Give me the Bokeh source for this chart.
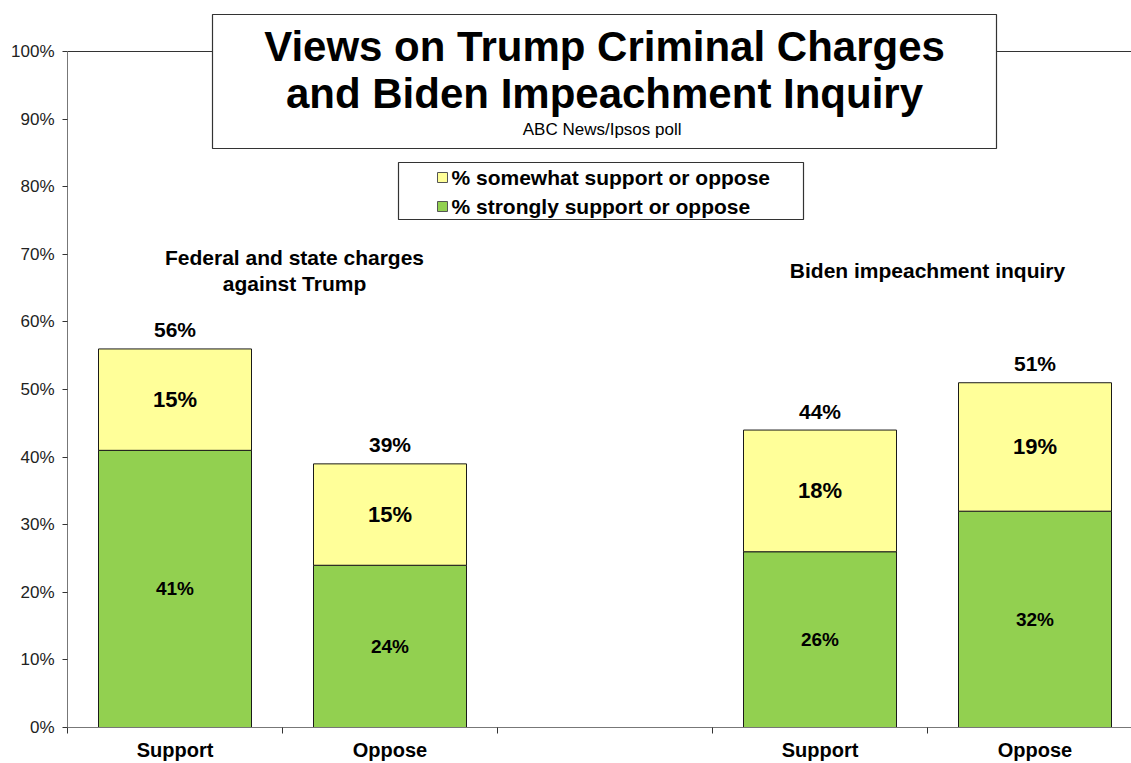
from bokeh.plotting import figure
from bokeh.models import Range1d, FixedTicker, Span, ColumnDataSource
from bokeh.core.properties import value
from bokeh.embed import file_html
from bokeh.resources import INLINE

# ---------------- data ----------------
responses = ["Support", "Oppose", "Support", "Oppose"]
group_of_bar = [0, 0, 1, 1]
group_labels = ["Federal and state charges\nagainst Trump", "Biden impeachment inquiry"]
strongly = [41, 24, 26, 32]
somewhat = [15, 15, 18, 19]
totals = [56, 39, 44, 51]
series_names = ["% somewhat support or oppose", "% strongly support or oppose"]
series_colors = ["#FFFF99", "#92D050"]
y_ticks = list(range(0, 101, 10))
y_tick_labels = [f"{t}%" for t in y_ticks]
title_lines = ["Views on Trump Criminal Charges", "and Biden Impeachment Inquiry"]
subtitle = "ABC News/Ipsos  poll"

# ---------------- layout helpers ----------------
W, H = 1131, 763
FL, FB = 67, 727          # frame left / bottom in page pixels
SLOT = 215.0              # pixels per category slot
PPU = 6.76                # pixels per percentage point
FONT = value("Liberation Sans")


def X(px):
    return (px - FL) / SLOT


def Y(py):
    return (FB - py) / PPU


# each group takes two slots, with one empty slot between the groups
xs = [g * 3 + i % 2 + 0.5 for i, g in enumerate(group_of_bar)]
group_x = [g * 3 + 1.0 for g in range(len(group_labels))]

p = figure(width=W, height=H,
           x_range=Range1d(0, X(W)), y_range=Range1d(0, Y(0)),
           output_backend="svg", toolbar_location=None,
           min_border_left=FL, min_border_right=0, min_border_top=0,
           min_border_bottom=H - FB)
p.outline_line_color = None
p.xgrid.visible = False
p.ygrid.visible = False
p.background_fill_color = "white"
p.border_fill_color = "white"

# top frame line at 100%
p.add_layout(Span(location=100, dimension="width", line_color="#333333",
                  line_width=1.2, level="underlay"))

# ---------------- bars ----------------
src = ColumnDataSource(dict(
    x=xs, strongly=strongly, total=[a + b for a, b in zip(strongly, somewhat)],
    somewhat=somewhat, tot_lbl=[f"{t}%" for t in totals],
    s_lbl=[f"{v}%" for v in strongly], w_lbl=[f"{v}%" for v in somewhat],
    s_mid=[v / 2 for v in strongly],
    w_mid=[a + b / 2 for a, b in zip(strongly, somewhat)],
    tot_y=totals,
))
BW = 153 / SLOT
p.vbar(x="x", bottom=0, top="strongly", width=BW, source=src,
       fill_color=series_colors[1], line_color="#1a1a1a", line_width=1)
p.vbar(x="x", bottom="strongly", top="total", width=BW, source=src,
       fill_color=series_colors[0], line_color="#1a1a1a", line_width=1)

p.text(x="x", y="s_mid", text="s_lbl", source=src, text_font=FONT,
       text_font_style="bold", text_font_size="19px", text_align="center",
       text_baseline="middle", text_color="black")
p.text(x="x", y="w_mid", text="w_lbl", source=src, text_font=FONT,
       text_font_style="bold", text_font_size="22px", text_align="center",
       text_baseline="middle", text_color="black")
p.text(x="x", y="tot_y", text="tot_lbl", source=src, text_font=FONT,
       text_font_style="bold", text_font_size="21px", text_align="center",
       text_baseline="middle", y_offset=-19, text_color="black")

# group labels
p.text(x=group_x, y=[Y(270)] * len(group_x), text=group_labels,
       x_offset=[12, 0], text_font=FONT, text_font_style="bold",
       text_font_size="21px", text_align="center", text_baseline="middle",
       text_color="black", text_line_height=1.1)

# ---------------- title box ----------------
p.quad(left=[X(212)], right=[X(996)], top=[Y(14)], bottom=[Y(148)],
       fill_color="white", line_color="#333333", line_width=1.2)
p.text(x=[X(604)] * 2, y=[Y(46), Y(93)], text=title_lines, text_font=FONT,
       text_font_style="bold", text_font_size="42px", text_align="center",
       text_baseline="middle", text_color="black")
p.text(x=[X(604)], y=[Y(129)], text=[subtitle], text_font=FONT,
       text_font_size="17px", text_align="center",
       text_baseline="middle", text_color="black")

# ---------------- legend box ----------------
p.quad(left=[X(398)], right=[X(803)], top=[Y(162)], bottom=[Y(219)],
       fill_color="white", line_color="#333333", line_width=1.2)
leg_y = [Y(177), Y(206)]
p.scatter(x=[X(442)] * 2, y=leg_y, marker="square", size=10,
          fill_color=series_colors, line_color="#555555", line_width=1)
p.text(x=[X(451)] * 2, y=leg_y, text=series_names, text_font=FONT,
       text_font_style="bold", text_font_size="21px", text_align="left",
       text_baseline="middle", text_color="black")

# ---------------- axes ----------------
p.yaxis.ticker = FixedTicker(ticks=y_ticks)
p.yaxis.major_label_overrides = dict(zip(y_ticks, y_tick_labels))
p.yaxis.bounds = (0, 100)
p.yaxis.axis_line_color = "#777777"
p.yaxis.major_tick_line_color = "#333333"
p.yaxis.major_tick_out = 5
p.yaxis.major_tick_in = 0
p.yaxis.minor_tick_line_color = None
p.yaxis.major_label_standoff = 8
p.yaxis.major_label_text_font = "Liberation Sans"
p.yaxis.major_label_text_font_size = "17px"
p.yaxis.major_label_text_color = "#222222"

p.xaxis.ticker = FixedTicker(ticks=xs, minor_ticks=[0, 1, 2, 3, 4, 5])
p.xaxis.major_label_overrides = dict(zip(xs, responses))
p.xaxis.axis_line_color = "#777777"
p.xaxis.major_tick_out = 0
p.xaxis.major_tick_in = 0
p.xaxis.minor_tick_out = 6
p.xaxis.minor_tick_in = 0
p.xaxis.minor_tick_line_color = "#333333"
p.xaxis.major_label_standoff = 5
p.xaxis.major_label_text_font = "Liberation Sans"
p.xaxis.major_label_text_font_style = "bold"
p.xaxis.major_label_text_font_size = "20px"
p.xaxis.major_label_text_color = "black"

open("out.html", "w").write(file_html(p, INLINE))
